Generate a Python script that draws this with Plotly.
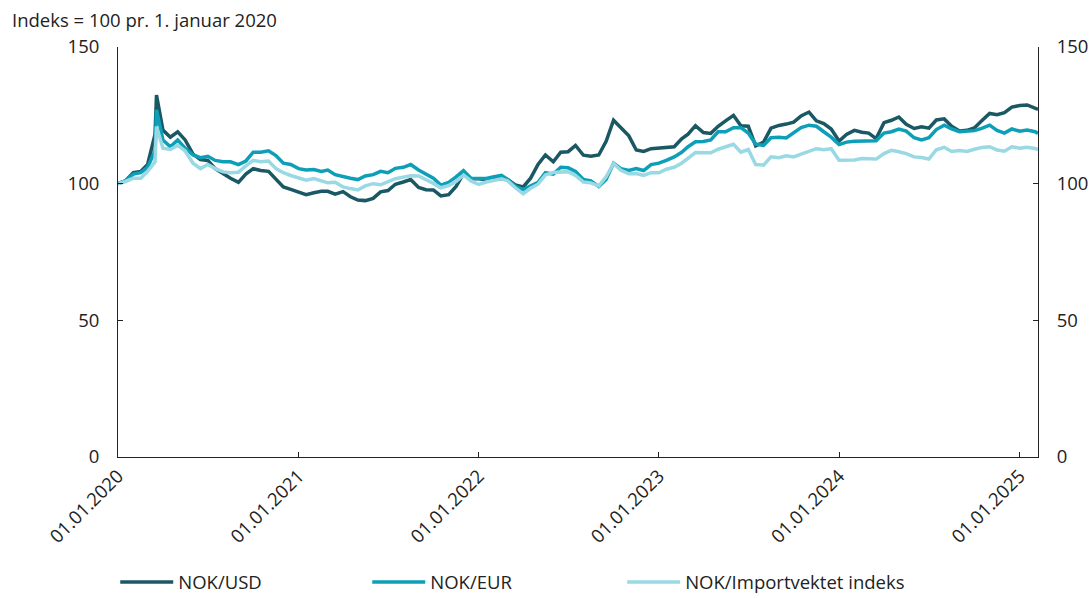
import plotly.graph_objects as go

# Semi-monthly observation dates (1st and 16th), plus the March 2020 peak and the last observation
dates = [
    "2020-01-01", "2020-01-16", "2020-02-01", "2020-02-16", "2020-03-01", "2020-03-16", "2020-03-19",
    "2020-04-01", "2020-04-16", "2020-05-01", "2020-05-16", "2020-06-01", "2020-06-16",
    "2020-07-01", "2020-07-16", "2020-08-01", "2020-08-16", "2020-09-01", "2020-09-16",
    "2020-10-01", "2020-10-16", "2020-11-01", "2020-11-16", "2020-12-01", "2020-12-16",
    "2021-01-01", "2021-01-16", "2021-02-01", "2021-02-16", "2021-03-01", "2021-03-16",
    "2021-04-01", "2021-04-16", "2021-05-01", "2021-05-16", "2021-06-01", "2021-06-16",
    "2021-07-01", "2021-07-16", "2021-08-01", "2021-08-16", "2021-09-01", "2021-09-16",
    "2021-10-01", "2021-10-16", "2021-11-01", "2021-11-16", "2021-12-01", "2021-12-16",
    "2022-01-01", "2022-01-16", "2022-02-01", "2022-02-16", "2022-03-01", "2022-03-16",
    "2022-04-01", "2022-04-16", "2022-05-01", "2022-05-16", "2022-06-01", "2022-06-16",
    "2022-07-01", "2022-07-16", "2022-08-01", "2022-08-16", "2022-09-01", "2022-09-16",
    "2022-10-01", "2022-10-16", "2022-11-01", "2022-11-16", "2022-12-01", "2022-12-16",
    "2023-01-01", "2023-01-16", "2023-02-01", "2023-02-16", "2023-03-01", "2023-03-16",
    "2023-04-01", "2023-04-16", "2023-05-01", "2023-05-16", "2023-06-01", "2023-06-16",
    "2023-07-01", "2023-07-16", "2023-08-01", "2023-08-16", "2023-09-01", "2023-09-16",
    "2023-10-01", "2023-10-16", "2023-11-01", "2023-11-16", "2023-12-01", "2023-12-16",
    "2024-01-01", "2024-01-16", "2024-02-01", "2024-02-16", "2024-03-01", "2024-03-16",
    "2024-04-01", "2024-04-16", "2024-05-01", "2024-05-16", "2024-06-01", "2024-06-16",
    "2024-07-01", "2024-07-16", "2024-08-01", "2024-08-16", "2024-09-01", "2024-09-16",
    "2024-10-01", "2024-10-16", "2024-11-01", "2024-11-16", "2024-12-01", "2024-12-16",
    "2025-01-01", "2025-01-16", "2025-02-01", "2025-02-07",
]

nok_usd = [
    100, 101, 104, 104.5, 107, 118, 132.4,
    119.6, 117, 119, 116, 110.8, 108.8,
    108.5, 105.5, 103.5, 102, 100.5, 103.5,
    105.5, 104.8, 104.5, 101.5, 98.8, 97.9,
    97, 96, 96.7, 97.2, 97.2, 96.2,
    97.1, 95.2, 94, 93.8, 94.6, 97,
    97.5, 99.8, 100.6, 101.5, 98.6, 97.8,
    97.7, 95.5, 96, 99, 103.8, 101.8,
    101.8, 101.4, 101.6, 101.9, 101.5, 99.5,
    98.8, 102, 107, 110.5, 108, 111.5,
    111.7, 114, 110.4, 110, 110.5, 115.5,
    123.2, 120.5, 117.5, 112.3, 111.8, 112.8,
    113, 113, 113.5, 116.4, 118.1, 121.2,
    118.7, 118.4, 121, 123, 125, 121.2,
    121, 113.8, 115.2, 120.3, 121.3, 121.8,
    122.5, 124.8, 126.2, 123, 122, 120,
    115.6, 118, 119.5, 118.8, 118.5, 116.5,
    122.3, 123.2, 124.4, 121.7, 120.2, 120.8,
    120.3, 123.3, 123.7, 121, 119.3, 119.5,
    120.4, 123, 125.7, 125.2, 126, 128,
    128.6, 128.8, 127.5, 127.2,
]

nok_eur = [
    100, 101, 103.5, 104, 106, 112, 127,
    116, 113.5, 116, 113, 110.5, 109.5,
    110, 108.5, 108, 108, 107, 108.3,
    111.5, 111.5, 112, 110.3, 107.5, 107,
    105.5, 105, 105.2, 104.5, 105, 103.3,
    102.5, 102, 101.5, 102.8, 103.3, 104.5,
    104, 105.6, 106, 107, 105, 103.5,
    102, 99.5, 100.5, 102.5, 104.8, 102,
    101.9, 101.9, 102.5, 103, 101.5, 99,
    97.8, 99, 100.5, 104, 103.5, 106,
    105.8, 104.5, 101.5, 101, 99, 101.5,
    107.5, 105.5, 104.8, 105.5, 104.8, 107,
    107.5, 108.5, 109.8, 111.5, 113.5, 115.3,
    115.4, 116, 119, 119, 120.5, 120.5,
    118.5, 114.5, 114, 116.8, 117, 116.7,
    118.5, 120.5, 121.4, 121, 119, 117,
    114.3, 115.2, 115.5, 115.6, 115.4, 115.7,
    118.5, 119, 120, 119.2, 116.8, 116,
    116.8, 119.8, 121.4, 120, 119, 119.2,
    119.4, 120.2, 121.4, 119.5, 118.5, 120,
    119.2, 119.6, 119, 118.4,
]

nok_import = [
    100, 100.8, 102, 102, 104.5, 108, 120.9,
    113, 112.5, 114, 112, 107.5, 105.5,
    107, 105.5, 104.3, 104, 104.2, 106.5,
    108.5, 108, 108.3, 105.5, 104, 103,
    102, 101.3, 101.9, 101, 100.3, 100.5,
    98.8, 98.2, 97.7, 99.2, 100, 99.6,
    100.8, 101.8, 102.4, 102.9, 102.8, 101.5,
    100.1, 98.5, 99.3, 100.8, 103.2, 101,
    99.7, 100.6, 101.2, 101.8, 101, 98.5,
    96.3, 98.3, 99.8, 103.2, 104.1, 104.4,
    104.4, 103, 100.6, 100.3, 99.2, 102.5,
    107.4, 104.9, 103.6, 103.7, 103, 104,
    104, 105.3, 106, 107.5, 109.5, 111.4,
    111.3, 111.3, 112.6, 113.5, 114.4, 111.5,
    112.5, 107, 106.8, 109.8, 109.5, 110.2,
    109.8, 110.8, 111.7, 112.8, 112.4, 112.8,
    108.6, 108.7, 108.7, 109.2, 109.1, 109,
    111, 112.2, 111.7, 111, 109.8, 109.6,
    109, 112.4, 113.3, 111.8, 112.1, 111.8,
    112.6, 113.2, 113.5, 112.3, 111.9, 113.5,
    113, 113.3, 112.9, 112.5,
]

series_names = ["NOK/USD", "NOK/EUR", "NOK/Importvektet indeks"]
series_colors = ["#1a5863", "#0d9fb8", "#99d9e3"]
series_legends = ["legend", "legend", "legend2"]

year_ticks = ["2020-01-01", "2021-01-01", "2022-01-01", "2023-01-01", "2024-01-01", "2025-01-01"]
year_labels = ["01.01.2020", "01.01.2021", "01.01.2022", "01.01.2023", "01.01.2024", "01.01.2025"]
y_ticks = [0, 50, 100, 150]

FONT = "Open Sans"
FONT_SIZE = 18.5
AXIS_COLOR = "#222222"

fig = go.Figure()
for name, values, color, lg in zip(series_names, [nok_usd, nok_eur, nok_import],
                                   series_colors, series_legends):
    fig.add_trace(go.Scatter(
        x=dates, y=values, name=name, mode="lines",
        line=dict(color=color, width=3.5), legend=lg,
    ))

# empty companion trace so the mirrored right-hand axis is drawn
fig.add_trace(go.Scatter(x=[], y=[], yaxis="y2", showlegend=False, hoverinfo="skip"))

axis_common = dict(
    range=[0, 150], tickvals=y_ticks, showgrid=False, zeroline=False,
    showline=True, linecolor=AXIS_COLOR, linewidth=1,
    ticks="inside", ticklen=5, tickcolor=AXIS_COLOR,
    tickfont=dict(family=FONT, size=FONT_SIZE, color=AXIS_COLOR),
    automargin=False,
)

legend_common = dict(
    orientation="h", xref="paper", yref="container", y=0.026, yanchor="middle",
    xanchor="left", itemwidth=53,
    font=dict(family=FONT, size=FONT_SIZE, color=AXIS_COLOR),
    bgcolor="rgba(0,0,0,0)",
)

fig.update_layout(
    width=1091, height=598,
    margin=dict(l=118, r=53, t=47, b=141, autoexpand=False),
    paper_bgcolor="white", plot_bgcolor="white",
    font=dict(family=FONT, size=FONT_SIZE, color=AXIS_COLOR),
    xaxis=dict(
        type="date", range=["2020-01-01", "2025-02-07"],
        tickvals=year_ticks, ticktext=year_labels, tickangle=-45,
        showgrid=False, zeroline=False,
        showline=True, linecolor=AXIS_COLOR, linewidth=1,
        ticks="inside", ticklen=5, tickcolor=AXIS_COLOR,
        tickfont=dict(family=FONT, size=FONT_SIZE, color=AXIS_COLOR),
        automargin=False,
    ),
    yaxis=dict(**axis_common, side="left", ticklabelstandoff=14),
    yaxis2=dict(**axis_common, side="right", overlaying="y", ticklabelstandoff=14),
    showlegend=True,
    legend=dict(**legend_common, x=-0.003, entrywidth=184, entrywidthmode="pixels"),
    legend2=dict(**legend_common, x=0.548),
    annotations=[dict(
        text="Indeks = 100 pr. 1. januar 2020",
        xref="paper", yref="paper", x=-0.117, y=1.066,
        xanchor="left", yanchor="middle", showarrow=False,
        font=dict(family=FONT, size=FONT_SIZE, color=AXIS_COLOR),
    )],
)

fig.write_html("out.html")
